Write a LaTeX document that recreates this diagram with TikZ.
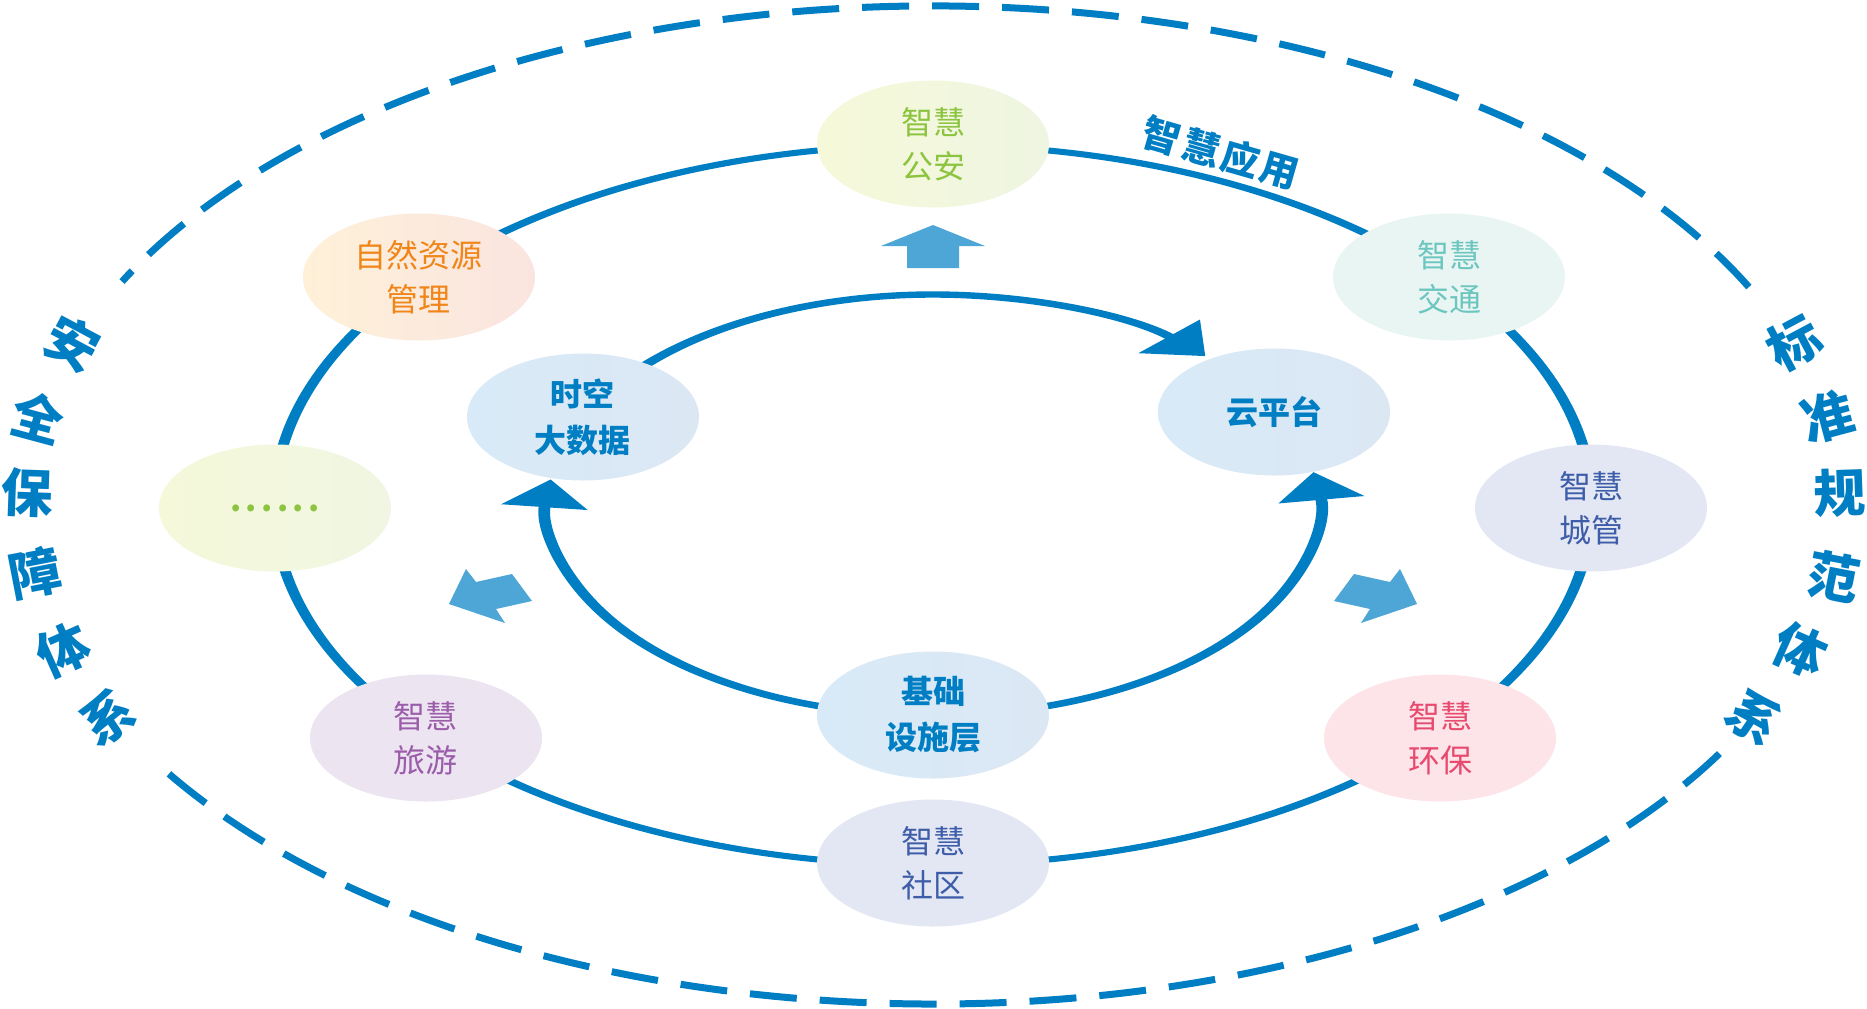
\documentclass[tikz,border=0pt]{standalone}
\usepackage{fontspec}
\newfontfamily\cjk{Noto Sans CJK SC}
\usetikzlibrary{arrows.meta,shapes.geometric}
\definecolor{mainblue}{RGB}{0,126,196}
\definecolor{lightblue}{RGB}{78,166,214}
\definecolor{tgreen}{HTML}{8CC43F}
\definecolor{torange}{HTML}{F08519}
\definecolor{tteal}{HTML}{6CC6BF}
\definecolor{tindigo}{HTML}{3E5DA9}
\definecolor{tred}{HTML}{E84A6F}
\definecolor{tpurple}{HTML}{9B5DAA}
\begin{document}
\begin{tikzpicture}[x=0.5pt,y=0.5pt,
  outerdash/.style={draw=mainblue, line width=3.5pt, dash pattern=on 23.5pt off 11.5pt},
  ringline/.style={draw=mainblue, line width=3pt},
  flowarrow/.style={draw=mainblue, line width=3.2pt, -{Triangle[length=14pt,width=23pt]}},
  blockarrow/.style={fill=lightblue},
  bubble/.style={ellipse, minimum width=116pt, minimum height=63.5pt, inner sep=0pt,
    align=center, font=\cjk\fontsize{16}{22}\selectfont},
  corenode/.style={bubble, font=\cjk\bfseries\fontsize{16}{23}\selectfont, text=mainblue,
    left color={rgb,255:red,216;green,234;blue,247}, right color={rgb,255:red,220;green,231;blue,244}},
  sidelabel/.style={font=\cjk\bfseries\fontsize{26}{26}\selectfont, text=mainblue, inner sep=0pt},
  applabel/.style={font=\cjk\bfseries\fontsize{19}{19}\selectfont, text=mainblue, inner sep=0pt}]

\useasboundingbox (-933,-503) rectangle (934,505);
\fill[white] (-933,-503) rectangle (934,505);

% outer dashed ellipse (two arcs, gaps for the side labels)
\coordinate (o1) at (25.9:907 and 499);
\coordinate (o2) at (212.6:907 and 499);
\draw[outerdash] (o1) arc[start angle=25.9, end angle=153.4, x radius=907, y radius=499];
\draw[outerdash] (o2) arc[start angle=212.6, end angle=332, x radius=907, y radius=499];

% rings drawn in a horizontally stretched canvas
\begin{scope}[transform canvas={xscale=1.83}]
  \draw[ringline] (0,0) circle[radius=360];
  \coordinate (a1) at (150:210.5);
  \coordinate (a2) at (-90:210.5);
  \draw[flowarrow] (a1) arc[start angle=150, end angle=45, radius=210.5];
  \draw[flowarrow] (a2) arc[start angle=-90, end angle=9, radius=210.5];
  \draw[flowarrow] (a2) arc[start angle=-90, end angle=-187, radius=210.5];
\end{scope}

% block arrows
\fill[blockarrow] (-26,237) -- (-26,259) -- (-52,259) -- (0,280) -- (52,259) -- (26,259) -- (26,237) -- cycle;
\fill[blockarrow] (401,-96) -- (421,-69) -- (457,-77) -- (467,-64) -- (484,-99) -- (428,-118) -- (437,-104) -- cycle;
\fill[blockarrow] (-401,-96) -- (-421,-69) -- (-457,-77) -- (-467,-64) -- (-484,-99) -- (-428,-118) -- (-437,-104) -- cycle;

% application nodes
\node[bubble, left color={rgb,255:red,246;green,249;blue,217}, right color={rgb,255:red,238;green,245;blue,225}, text=tgreen] (gongan) at (0,361) {智慧\\公安};
\node[bubble, fill={rgb,255:red,233;green,245;blue,243}, text=tteal] (jiaotong) at (516,228) {智慧\\交通};
\node[bubble, fill={rgb,255:red,226;green,231;blue,243}, text=tindigo] (chengguan) at (658,-3) {智慧\\城管};
\node[bubble, fill={rgb,255:red,252;green,228;blue,232}, text=tred] (huanbao) at (507,-233) {智慧\\环保};
\node[bubble, fill={rgb,255:red,226;green,231;blue,243}, text=tindigo] (shequ) at (0,-358) {智慧\\社区};
\node[bubble, fill={rgb,255:red,236;green,228;blue,241}, text=tpurple] (lvyou) at (-507,-233) {智慧\\旅游};
\node[bubble, left color={rgb,255:red,245;green,248;blue,217}, right color={rgb,255:red,240;green,246;blue,227}, text=tgreen,
  font=\cjk\bfseries\fontsize{16}{16}\selectfont] (more) at (-658,-3) {.\kern2.2pt.\kern2.2pt.\kern2.2pt.\kern2.2pt.\kern2.2pt.};
\node[bubble, left color={rgb,255:red,254;green,241;blue,216}, right color={rgb,255:red,250;green,228;blue,224}, text=torange] (ziran) at (-514,228) {自然资源\\管理};

% core nodes
\node[corenode] (shikong) at (-350,88) {时空\\大数据};
\node[corenode] (yun) at (341,93) {云平台};
\node[corenode] (jichu) at (0,-210) {基础\\设施层};

% ring label
\node[applabel, rotate=-16] (applabel) at (288,352) {智\kern1.5pt慧\kern1.5pt应\kern1.5pt用};

% side labels
\foreach \ch/\x/\y/\r [count=\i] in {安/-860/162/-28, 全/-895/88/-15, 保/-906/12/-2, 障/-898/-68/11, 体/-870/-145/24, 系/-825/-212/34}
  \node[sidelabel, rotate=\r] (safe\i) at (\x,\y) {\ch};
\foreach \ch/\x/\y/\r [count=\i] in {标/861/162/28, 准/894/88/15, 规/907/12/2, 范/901/-72/-11, 体/867/-145/-24, 系/821/-212/-34}
  \node[sidelabel, rotate=\r] (std\i) at (\x,\y) {\ch};
\end{tikzpicture}
\end{document}
